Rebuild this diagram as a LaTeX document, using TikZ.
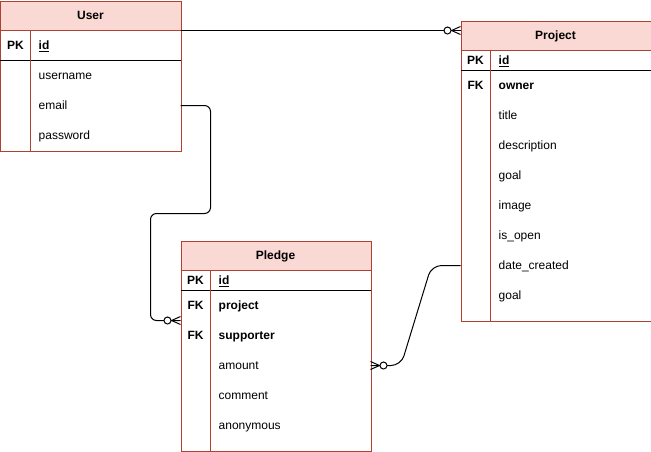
\documentclass[tikz,border=0pt]{standalone}
\usepackage{fontspec}
\setmainfont{Liberation Sans}
\definecolor{hdrfill}{HTML}{FAD9D5}
\definecolor{hdrline}{HTML}{AE4132}
\tikzset{
  border/.style={draw=hdrline, line width=1pt},
  header/.style={fill=hdrfill, draw=none},
  keyline/.style={draw=black, line width=1pt},
  field/.style={anchor=base west, inner sep=0pt, font=\fontsize{12}{14}\selectfont},
  keytag/.style={anchor=base, inner sep=0pt, font=\fontsize{12}{14}\selectfont\bfseries},
  title/.style={anchor=base, inner sep=0pt, font=\fontsize{12}{14}\selectfont\bfseries},
  link/.style={draw=black, line width=1pt},
}
% zero-or-many end: crow's foot at the entity, circle behind it
\newcommand\zeromany[2]{%
  \begin{scope}[shift={(#1)}, rotate=#2]
    \draw[link] (0,-4) -- (9,0) -- (0,4);
    \filldraw[link, fill=white] (13,0) circle (3.5);
  \end{scope}}
\begin{document}
\begin{tikzpicture}[x=1pt, y=-1pt]
\useasboundingbox (-0.5,-0.5) rectangle (650.5,450.5);

% ---------- User ----------
\fill[header] (0,0) rectangle (180,30);
\node[border, minimum width=180pt, minimum height=150pt, anchor=north west, inner sep=0pt] (user) at (0,0) {};
\draw[border] (0,30) -- (180,30);
\draw[keyline] (0,60) -- (180,60);
\draw[border] (30,30) -- (30,150);
\node[title] (user-t) at (90,19.3) {User};
\node[keytag] (user-pk) at (15,49.3) {PK};
\node[field, font=\fontsize{12}{14}\selectfont\bfseries] (user-id) at (38,49.3) {\underline{id}};
\node[field] (user-username) at (38,79.3) {username};
\node[field] (user-email) at (38,109.3) {email};
\node[field] (user-password) at (38,139.3) {password};

% ---------- Project ----------
\fill[header] (460,20) rectangle (650,50);
\node[border, minimum width=190pt, minimum height=300pt, anchor=north west, inner sep=0pt] (project) at (460,20) {};
\draw[border] (460,50) -- (650,50);
\draw[keyline] (460,70) -- (650,70);
\draw[border] (490,50) -- (490,320);
\node[title] (project-t) at (555,39.3) {Project};
\node[keytag] (project-pk) at (475,64.3) {PK};
\node[field, font=\fontsize{12}{14}\selectfont\bfseries] (project-id) at (498,64.3) {\underline{id}};
\node[keytag] (project-fk) at (475,89.3) {FK};
\node[field, font=\fontsize{12}{14}\selectfont\bfseries] (project-owner) at (498,89.3) {owner};
\node[field] (project-title) at (498,119.3) {title};
\node[field] (project-description) at (498,149.3) {description};
\node[field] (project-goal) at (498,179.3) {goal};
\node[field] (project-image) at (498,209.3) {image};
\node[field] (project-isopen) at (498,239.3) {is\_open};
\node[field] (project-date) at (498,269.3) {date\_created};
\node[field] (project-goal2) at (498,299.3) {goal};

% ---------- Pledge ----------
\fill[header] (180,240) rectangle (370,270);
\node[border, minimum width=190pt, minimum height=210pt, anchor=north west, inner sep=0pt] (pledge) at (180,240) {};
\draw[border] (180,270) -- (370,270);
\draw[keyline] (180,290) -- (370,290);
\draw[border] (210,270) -- (210,450);
\node[title] (pledge-t) at (275,259.3) {Pledge};
\node[keytag] (pledge-pk) at (195,284.3) {PK};
\node[field, font=\fontsize{12}{14}\selectfont\bfseries] (pledge-id) at (218,284.3) {\underline{id}};
\node[keytag] (pledge-fk1) at (195,309.3) {FK};
\node[field, font=\fontsize{12}{14}\selectfont\bfseries] (pledge-project) at (218,309.3) {project};
\node[keytag] (pledge-fk2) at (195,339.3) {FK};
\node[field, font=\fontsize{12}{14}\selectfont\bfseries] (pledge-supporter) at (218,339.3) {supporter};
\node[field] (pledge-amount) at (218,369.3) {amount};
\node[field] (pledge-comment) at (218,399.3) {comment};
\node[field] (pledge-anonymous) at (218,429.3) {anonymous};

% ---------- relationship ends ----------
\coordinate (user-idport) at (180,30);
\coordinate (project-in) at (460,30);
\coordinate (user-emailport) at (180,105);
\coordinate (pledge-in-left) at (180,320);
\coordinate (project-dateport) at (460,265);
\coordinate (pledge-in-right) at (370,365);

% User.id -> Project.owner
\draw[link] (user-idport) -- (project-in);
\zeromany{project-in}{180}

% User.id -> Pledge.supporter
\draw[link, rounded corners=6pt] (user-emailport) -| (210,213) -| (150,320) -- (pledge-in-left);
\zeromany{pledge-in-left}{180}

% Project.id -> Pledge.project
\draw[link, rounded corners=10pt] (project-dateport) -- (431,265) -- (400.5,365) -- (pledge-in-right);
\zeromany{pledge-in-right}{0}

\end{tikzpicture}
\end{document}
